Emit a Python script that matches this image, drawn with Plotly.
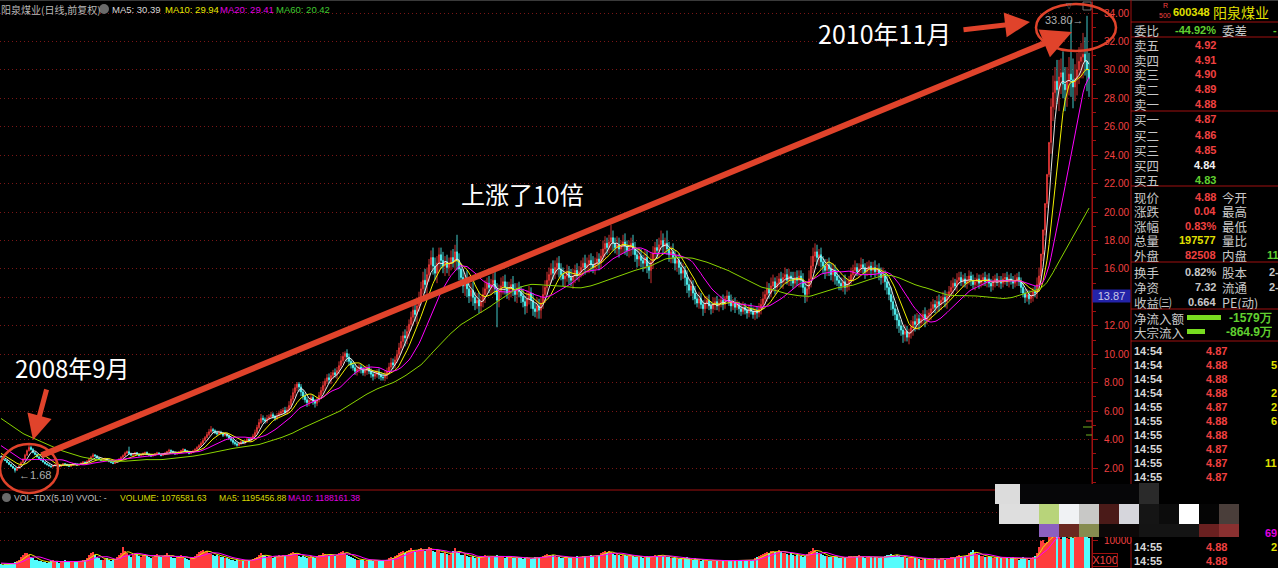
import plotly.graph_objects as go
import pandas as pd

W, H = 1278, 568
CJK = "Noto Sans CJK SC, Noto Sans, sans-serif"
LAT = "Liberation Sans, Arial, sans-serif"

# ---------------- data ----------------
# closes before the visible window (only used to warm up the moving averages)
history_close = [8.6, 8.5, 8.7, 8.4, 8.2, 8.3, 8.0, 7.8, 7.9, 7.6, 7.4, 7.5, 7.3, 7.1, 7.2, 7.0, 6.9, 6.8, 6.6, 6.5,
                 6.4, 6.2, 6.3, 6.0, 5.9, 6.1, 5.8, 5.6, 5.7, 5.5, 5.3, 5.4, 5.2, 5.0, 5.1, 4.9, 4.8, 4.9, 4.7, 4.6,
                 4.6, 4.5, 4.4, 4.5, 4.3, 4.2, 4.1, 4.0, 3.9, 3.8, 3.5, 3.4, 3.3, 3.2, 3.1, 3.0, 2.95, 2.9, 2.85, 2.8]
history_volume = [20, 18, 22, 25, 20, 18, 16, 15, 14, 13]

close = [
    2.78, 2.60, 2.52, 2.38, 2.25, 2.12, 2.00, 1.84, 1.98, 2.15, 2.38, 2.62, 2.90, 3.22, 3.45, 3.30, 3.08, 2.95, 2.78, 2.66,
    2.55, 2.42, 2.30, 2.22, 2.15, 2.08, 2.16, 2.24, 2.18, 2.10, 2.20, 2.30, 2.26, 2.18, 2.12, 2.22, 2.32, 2.28, 2.20, 2.25,
    2.34, 2.42, 2.38, 2.48, 2.62, 2.78, 2.92, 2.85, 2.70, 2.60, 2.52, 2.58, 2.66, 2.55, 2.45, 2.38, 2.32, 2.40, 2.50, 2.62,
    2.75, 2.88, 3.05, 3.15, 3.02, 2.90, 2.95, 3.08, 2.98, 2.86, 2.92, 3.02, 3.10, 2.98, 2.90, 2.84, 2.92, 3.00, 3.06, 2.96,
    2.88, 2.95, 3.05, 3.15, 3.25, 3.18, 3.08, 2.98, 3.05, 3.12, 3.22, 3.30, 3.20, 3.10, 3.02, 3.10, 3.20, 3.32, 3.45, 3.58,
    3.75, 3.95, 4.15, 4.35, 4.55, 4.70, 4.62, 4.48, 4.40, 4.52, 4.45, 4.30, 4.38, 4.25, 4.10, 3.95, 3.80, 3.70, 3.60, 3.72,
    3.85, 3.78, 3.90, 4.02, 3.95, 4.10, 4.25, 4.50, 4.85, 5.20, 5.50, 5.40, 5.30, 5.48, 5.60, 5.75, 5.62, 5.50, 5.68, 5.85,
    5.95, 6.05, 5.90, 6.10, 6.40, 6.85, 7.30, 7.65, 7.90, 7.70, 7.35, 7.05, 6.80, 6.60, 6.75, 6.95, 6.70, 6.55, 6.80, 7.10,
    7.45, 7.80, 8.10, 8.35, 8.20, 8.50, 8.70, 8.55, 8.85, 9.20, 9.55, 9.85, 10.05, 9.80, 9.50, 9.25, 9.05, 8.80, 8.95, 9.10,
    8.90, 8.70, 8.85, 9.05, 8.80, 8.60, 8.45, 8.60, 8.75, 8.55, 8.40, 8.35, 8.55, 8.80, 9.10, 9.40, 9.25, 9.60, 10.00, 10.45,
    10.90, 11.30, 11.15, 11.60, 12.10, 12.60, 13.10, 12.80, 13.40, 14.00, 14.60, 15.20, 14.90, 15.60, 16.30, 16.80, 16.20, 15.70, 16.40, 17.00,
    16.60, 16.20, 16.50, 16.10, 16.40, 16.80, 16.50, 17.20, 16.60, 16.00, 15.40, 14.80, 15.20, 14.60, 14.10, 14.50, 14.00, 13.60, 13.80, 13.40,
    13.70, 14.20, 14.60, 15.00, 14.70, 14.90, 15.20, 14.60, 13.80, 14.40, 14.80, 15.10, 14.70, 14.30, 14.60, 14.90, 14.50, 14.20, 14.60, 14.40,
    14.10, 13.70, 13.40, 13.90, 14.30, 13.80, 13.20, 13.00, 13.40, 13.10, 13.60, 14.20, 14.70, 15.20, 15.60, 16.00, 15.70, 16.10, 16.40, 16.00,
    15.60, 15.30, 15.50, 15.80, 15.40, 15.20, 15.50, 15.90, 15.60, 15.80, 16.10, 16.40, 16.10, 16.30, 16.60, 16.30, 16.10, 16.40, 16.70, 16.50,
    16.90, 17.40, 17.80, 17.50, 17.90, 18.20, 17.80, 17.50, 17.70, 17.40, 17.60, 17.90, 17.60, 17.30, 17.50, 17.80, 17.40, 17.00, 16.70, 16.90,
    16.60, 16.40, 16.80, 16.20, 15.90, 16.50, 17.10, 17.50, 17.30, 17.70, 18.00, 17.60, 17.80, 17.40, 17.00, 17.20, 16.80, 16.40, 16.60, 16.10,
    15.70, 15.90, 15.40, 14.90, 14.50, 14.80, 14.30, 13.90, 13.60, 13.90, 13.50, 13.20, 13.60, 13.80, 13.40, 13.20, 13.50, 13.70, 13.40, 13.60,
    13.80, 13.50, 13.90, 14.10, 13.70, 13.40, 13.60, 13.30, 13.50, 13.20, 13.00, 13.30, 13.10, 12.90, 13.20, 13.00, 12.80, 13.10, 12.90, 13.20,
    13.50, 13.90, 14.20, 14.60, 14.30, 14.80, 15.10, 14.70, 15.00, 15.30, 15.10, 15.40, 15.60, 15.20, 15.50, 15.30, 15.00, 15.40, 15.20, 15.50,
    15.20, 14.70, 14.20, 14.60, 15.30, 16.20, 16.90, 17.20, 16.80, 17.00, 16.50, 16.20, 15.90, 16.30, 16.00, 15.60, 15.90, 15.50, 15.20, 15.00,
    14.80, 15.10, 14.70, 14.90, 15.20, 15.60, 15.90, 16.10, 15.80, 16.00, 16.30, 16.10, 15.80, 16.00, 16.20, 15.90, 16.10, 15.80, 16.00, 15.70,
    15.40, 15.60, 15.10, 14.70, 14.20, 13.70, 13.20, 12.80, 12.40, 12.00, 11.70, 11.40, 11.60, 11.20, 11.50, 11.90, 12.30, 12.10, 12.50, 12.20,
    12.50, 12.80, 12.40, 12.70, 12.90, 13.20, 13.50, 13.30, 13.70, 13.50, 13.80, 14.00, 13.70, 14.10, 14.40, 14.70, 15.00, 14.80, 15.20, 15.40,
    15.10, 15.30, 15.00, 15.20, 15.50, 15.20, 14.90, 15.10, 15.30, 15.00, 15.20, 15.40, 15.10, 15.30, 15.00, 14.80, 15.10, 15.30, 15.10, 15.20,
    15.00, 15.30, 15.40, 15.10, 15.30, 15.20, 15.00, 15.20, 15.40, 15.10, 14.70, 14.30, 14.00, 14.20, 13.90, 14.10, 14.40, 14.30, 14.90, 15.50,
    17.05, 18.75, 20.60, 22.65, 24.90, 27.40, 28.40, 29.20, 28.60, 29.50, 29.80, 29.00, 28.60, 29.20, 29.70, 29.30, 28.80, 29.40, 30.00, 30.60,
    30.90, 31.10, 30.60, 30.00, 29.40,
]

# upper / lower shadows, in hundredths of a yuan
wick_up = [
    6, 5, 4, 5, 4, 3, 5, 4, 6, 5, 8, 6, 10, 8, 30, 12, 10, 6, 8, 5,
    5, 4, 3, 5, 4, 3, 6, 4, 5, 3, 6, 5, 4, 3, 5, 6, 4, 3, 5, 4,
    5, 6, 4, 8, 10, 8, 12, 6, 5, 4, 5, 6, 7, 4, 5, 3, 4, 6, 5, 8,
    8, 8, 10, 8, 35, 6, 8, 6, 5, 4, 6, 8, 5, 6, 5, 4, 6, 5, 8, 5,
    5, 6, 8, 6, 10, 5, 4, 6, 5, 8, 6, 10, 5, 4, 6, 5, 8, 6, 8, 10,
    12, 15, 10, 18, 20, 25, 12, 10, 15, 12, 10, 8, 12, 10, 8, 10, 8, 10, 12, 10,
    10, 12, 8, 10, 12, 10, 15, 20, 18, 25, 30, 20, 15, 25, 18, 20, 15, 12, 20, 18,
    20, 18, 25, 20, 30, 25, 30, 25, 15, 15, 20, 18, 25, 20, 18, 25, 20, 15, 20, 25,
    25, 30, 20, 25, 30, 25, 20, 30, 25, 30, 35, 30, 15, 30, 25, 20, 25, 30, 25, 20,
    20, 25, 30, 20, 25, 20, 25, 30, 20, 25, 20, 25, 30, 25, 30, 35, 30, 25, 30, 35,
    40, 30, 45, 40, 35, 40, 50, 60, 45, 40, 50, 60, 80, 50, 40, 50, 70, 60, 50, 50,
    50, 60, 40, 50, 40, 50, 60, 50, 120, 50, 40, 60, 50, 70, 40, 50, 60, 40, 50, 60,
    40, 50, 60, 40, 50, 40, 50, 60, 40, 50, 60, 40, 50, 40, 50, 40, 60, 50, 40, 50,
    40, 50, 40, 60, 50, 40, 50, 40, 60, 50, 40, 60, 50, 60, 50, 40, 60, 50, 40, 50,
    40, 50, 40, 50, 40, 60, 50, 40, 50, 40, 50, 40, 60, 50, 40, 50, 60, 40, 50, 40,
    50, 60, 50, 40, 50, 90, 50, 40, 60, 50, 40, 50, 60, 40, 50, 40, 60, 50, 40, 60,
    50, 40, 60, 50, 40, 60, 50, 40, 60, 50, 70, 50, 40, 90, 50, 40, 60, 50, 40, 50,
    40, 50, 30, 50, 40, 60, 40, 50, 30, 50, 40, 30, 50, 30, 40, 30, 50, 30, 40, 30,
    30, 40, 20, 40, 30, 50, 30, 40, 30, 20, 30, 40, 30, 20, 30, 40, 30, 20, 30, 40,
    40, 50, 30, 50, 40, 60, 50, 30, 50, 40, 50, 30, 50, 40, 50, 30, 50, 40, 50, 40,
    40, 50, 40, 50, 60, 70, 60, 60, 50, 40, 50, 40, 50, 40, 50, 40, 50, 40, 50, 40,
    40, 30, 50, 40, 30, 50, 40, 50, 30, 40, 50, 40, 30, 50, 40, 30, 40, 50, 30, 40,
    40, 50, 30, 50, 40, 50, 40, 30, 40, 50, 40, 30, 50, 40, 30, 50, 40, 50, 40, 30,
    40, 30, 50, 40, 30, 50, 40, 30, 40, 50, 30, 40, 50, 30, 40, 50, 40, 30, 50, 40,
    40, 30, 40, 30, 40, 30, 40, 30, 40, 30, 40, 30, 40, 30, 40, 30, 40, 30, 40, 30,
    30, 40, 30, 40, 30, 40, 30, 40, 30, 40, 30, 40, 30, 40, 30, 40, 30, 40, 50, 60,
    0, 0, 0, 0, 0, 60, 120, 100, 150, 120, 100, 150, 120, 100, 120, 380, 150, 100, 120, 100,
    100, 150, 120, 320, 120,
]
wick_dn = [
    4, 5, 3, 4, 5, 4, 6, 16, 4, 3, 4, 5, 6, 4, 6, 8, 5, 6, 4, 5,
    6, 4, 5, 3, 4, 5, 3, 4, 5, 4, 3, 4, 5, 6, 3, 4, 3, 5, 4, 3,
    3, 4, 5, 3, 4, 6, 5, 8, 6, 5, 4, 5, 3, 6, 5, 4, 5, 3, 4, 3,
    4, 5, 6, 8, 5, 6, 4, 5, 6, 5, 4, 5, 6, 4, 5, 6, 4, 5, 3, 6,
    6, 4, 5, 4, 6, 8, 5, 6, 4, 5, 4, 6, 8, 5, 6, 4, 5, 6, 4, 5,
    8, 10, 6, 8, 10, 12, 15, 10, 12, 8, 10, 12, 8, 10, 12, 10, 15, 12, 10, 8,
    10, 8, 12, 10, 8, 12, 10, 8, 15, 10, 12, 20, 18, 15, 12, 10, 15, 18, 12, 10,
    15, 20, 18, 15, 20, 25, 20, 30, 25, 35, 30, 25, 20, 30, 25, 20, 25, 30, 20, 18,
    20, 25, 30, 20, 25, 30, 25, 20, 30, 25, 20, 25, 30, 35, 30, 25, 20, 25, 30, 25,
    25, 20, 25, 30, 20, 25, 30, 20, 25, 30, 25, 20, 25, 30, 25, 20, 30, 25, 20, 25,
    40, 50, 60, 45, 50, 40, 60, 50, 70, 40, 50, 40, 60, 70, 50, 40, 60, 50, 70, 60,
    60, 50, 70, 40, 60, 50, 40, 60, 70, 80, 60, 50, 70, 60, 50, 40, 60, 50, 40, 50,
    50, 40, 60, 50, 40, 50, 60, 40, 190, 50, 40, 60, 50, 40, 50, 60, 40, 50, 60, 40,
    50, 40, 60, 50, 40, 60, 50, 40, 50, 60, 60, 40, 60, 50, 40, 60, 50, 40, 50, 60,
    40, 50, 60, 40, 50, 40, 60, 50, 40, 50, 40, 60, 50, 40, 60, 50, 40, 50, 40, 60,
    50, 40, 60, 50, 40, 60, 50, 40, 50, 60, 40, 50, 60, 40, 50, 60, 40, 50, 60, 50,
    50, 60, 40, 50, 60, 90, 50, 40, 60, 50, 40, 60, 50, 40, 50, 60, 40, 50, 60, 50,
    50, 40, 60, 60, 50, 40, 50, 40, 30, 40, 30, 50, 30, 40, 30, 40, 30, 40, 30, 40,
    30, 40, 30, 20, 30, 40, 30, 40, 20, 40, 30, 20, 30, 40, 30, 20, 30, 40, 40, 30,
    40, 30, 40, 50, 40, 30, 40, 50, 40, 30, 40, 50, 40, 30, 40, 50, 40, 30, 40, 50,
    50, 40, 60, 50, 40, 60, 50, 40, 50, 60, 40, 50, 60, 40, 50, 40, 50, 60, 40, 50,
    30, 40, 50, 30, 40, 30, 50, 40, 30, 40, 30, 40, 50, 30, 40, 50, 30, 40, 30, 50,
    50, 40, 60, 50, 40, 60, 50, 40, 60, 50, 40, 60, 50, 30, 50, 40, 60, 50, 40, 50,
    30, 40, 50, 30, 40, 50, 30, 40, 30, 50, 40, 30, 40, 50, 30, 40, 50, 30, 40, 30,
    30, 40, 30, 40, 30, 40, 30, 40, 30, 40, 30, 40, 30, 40, 30, 40, 30, 40, 30, 40,
    40, 30, 40, 30, 40, 30, 40, 30, 40, 30, 40, 30, 40, 30, 40, 30, 40, 30, 40, 50,
    60, 50, 40, 30, 20, 80, 100, 120, 100, 150, 120, 100, 150, 120, 100, 120, 150, 100, 120, 100,
    120, 150, 100, 150, 130,
]

# daily volume, in units of 10,000 shares
volume = [
    14, 12, 15, 13, 16, 14, 18, 22, 25, 30, 38, 45, 52, 55, 48, 40, 35, 30, 28, 25,
    24, 22, 20, 18, 22, 26, 28, 24, 20, 18, 22, 25, 28, 24, 20, 22, 26, 24, 20, 22,
    25, 28, 30, 35, 45, 52, 58, 48, 40, 35, 30, 28, 32, 36, 30, 26, 28, 32, 38, 45,
    55, 75, 60, 52, 45, 40, 48, 55, 50, 42, 38, 45, 50, 44, 38, 35, 40, 46, 50, 42,
    38, 42, 48, 52, 45, 40, 36, 34, 38, 42, 46, 40, 36, 32, 30, 34, 38, 44, 50, 56,
    60, 65, 58, 62, 55, 50, 46, 42, 48, 44, 40, 38, 36, 34, 32, 30, 28, 26, 30, 28,
    26, 24, 28, 30, 26, 28, 32, 36, 40, 45, 52, 48, 42, 38, 44, 40, 36, 38, 42, 46,
    44, 48, 42, 46, 50, 55, 58, 52, 48, 44, 40, 42, 38, 36, 40, 44, 38, 36, 40, 45,
    48, 52, 50, 46, 44, 50, 48, 42, 46, 52, 58, 62, 55, 48, 42, 38, 35, 32, 30, 28,
    30, 28, 26, 28, 30, 27, 25, 28, 30, 26, 24, 25, 28, 30, 34, 38, 36, 42, 48, 55,
    58, 62, 55, 60, 65, 70, 62, 58, 64, 68, 72, 65, 60, 68, 74, 70, 62, 58, 64, 60,
    55, 52, 58, 50, 48, 55, 60, 72, 58, 52, 48, 45, 50, 44, 40, 38, 42, 36, 34, 38,
    40, 44, 46, 42, 38, 40, 44, 42, 48, 44, 40, 38, 36, 40, 42, 38, 36, 34, 38, 36,
    34, 32, 36, 38, 34, 32, 36, 38, 40, 35, 38, 42, 46, 50, 48, 44, 46, 42, 40, 38,
    36, 34, 38, 40, 36, 34, 38, 40, 42, 38, 40, 44, 42, 40, 44, 46, 42, 40, 44, 48,
    52, 58, 62, 55, 60, 56, 50, 48, 52, 46, 44, 48, 45, 42, 44, 46, 42, 40, 38, 40,
    38, 36, 40, 42, 38, 40, 44, 48, 42, 46, 48, 44, 42, 40, 38, 36, 34, 36, 34, 32,
    34, 32, 36, 38, 34, 32, 30, 34, 32, 28, 26, 28, 30, 27, 25, 26, 28, 27, 25, 26,
    25, 27, 28, 26, 24, 26, 28, 25, 24, 26, 28, 25, 27, 30, 28, 26, 30, 34, 38, 42,
    45, 50, 55, 58, 52, 60, 62, 56, 58, 66, 60, 55, 52, 50, 48, 52, 46, 44, 48, 45,
    42, 40, 44, 50, 56, 62, 70, 65, 58, 54, 50, 46, 44, 42, 40, 38, 42, 40, 38, 36,
    35, 38, 36, 40, 42, 44, 40, 38, 42, 45, 40, 38, 36, 40, 42, 38, 36, 40, 38, 36,
    38, 40, 42, 45, 48, 50, 46, 44, 48, 42, 40, 38, 42, 36, 34, 38, 40, 36, 34, 32,
    30, 32, 34, 30, 28, 30, 32, 34, 30, 32, 34, 36, 30, 32, 35, 38, 40, 36, 42, 45,
    42, 40, 44, 48, 52, 58, 64, 55, 50, 46, 44, 42, 40, 38, 42, 40, 36, 38, 40, 36,
    34, 36, 38, 34, 32, 36, 38, 34, 32, 30, 34, 38, 36, 32, 30, 34, 38, 42, 55, 75,
    95, 100, 88, 92, 110, 135, 128, 120, 115, 118, 105, 112, 125, 108, 102, 112, 108, 122, 130, 115,
    125, 118, 128, 119, 107.66,
]

price_ticks = list(range(2, 35, 2))
ma_windows = [5, 10, 20, 60]
ma_colors = ["#e6e6e6", "#f2f200", "#ff00ff", "#8ad400"]
vol_ma_windows = [5, 10]
vol_ma_colors = ["#e8e800", "#ff00ff"]

header_main = [("MA5: 30.39", "#d8d8d8", 111), ("MA10: 29.94", "#e8e800", 164),
               ("MA20: 29.41", "#e000e0", 219), ("MA60: 20.42", "#40c830", 275)]
header_vol = [("VOL-TDX(5,10) VVOL: -", "#c0c0c0", 13), ("VOLUME: 1076581.63", "#d8d800", 119),
              ("MA5: 1195456.88", "#d8d800", 218), ("MA10: 1188161.38", "#e000e0", 287)]

RED = "#f04040"
UPC = "#ff3c3c"
DNC = "#54fcfc"
GRID = "#7a1616"
AXIS = "#a01010"
LABEL = "#c8c8c8"
GREEN = "#60d030"
YEL = "#e0e000"
ANN = "#e0432b"

# ---------------- derived ----------------
n = len(close)
xs = list(range(n))
opens = [history_close[-1]] + close[:-1]
highs = [round(max(o, c) + u / 100, 2) for o, c, u in zip(opens, close, wick_up)]
lows = [round(min(o, c) - d / 100, 2) for o, c, d in zip(opens, close, wick_dn)]
all_close = pd.Series(history_close + close)
hc = len(history_close)
mas = {w: all_close.rolling(w).mean().iloc[hc:].tolist() for w in ma_windows}
all_vol = pd.Series(history_volume + volume)
hv = len(history_volume)
vmas = {w: all_vol.rolling(w).mean().iloc[hv:].tolist() for w in vol_ma_windows}
vol_colors = [UPC if c >= o else DNC for o, c in zip(opens, close)]

# price axis calibration: 34.00 at pixel row 13, 2.00 at pixel row 468
PX_PER_UNIT = (468 - 13) / 32.0
p_top = 34 + (13 - 2) / PX_PER_UNIT
p_bot = 2 - (488 - 468) / PX_PER_UNIT
X_RIGHT = 1092

fig = go.Figure()
fig.add_trace(go.Candlestick(
    x=xs, open=opens, high=highs, low=lows, close=close,
    increasing=dict(line=dict(color=UPC, width=0.8), fillcolor="#000000"),
    decreasing=dict(line=dict(color=DNC, width=0.8), fillcolor=DNC),
    whiskerwidth=0, hoverinfo="skip", xaxis="x", yaxis="y"))
for w, col in zip(ma_windows, ma_colors):
    fig.add_trace(go.Scatter(x=xs, y=mas[w], mode="lines", line=dict(color=col, width=1),
                             hoverinfo="skip", xaxis="x", yaxis="y"))
fig.add_trace(go.Bar(x=xs, y=volume, marker=dict(color=vol_colors, line=dict(width=0)), width=0.5,
                     hoverinfo="skip", xaxis="x2", yaxis="y2"))
for w, col in zip(vol_ma_windows, vol_ma_colors):
    fig.add_trace(go.Scatter(x=xs, y=vmas[w], mode="lines", line=dict(color=col, width=1),
                             hoverinfo="skip", xaxis="x2", yaxis="y2"))


def px(x):
    return x / W


def py(y):
    return 1 - y / H


axis_common = dict(side="right", showline=True, linecolor=AXIS, linewidth=1, ticks="outside",
                   ticklen=5, tickcolor=AXIS, tickfont=dict(color=RED, size=10, family=LAT),
                   showgrid=True, gridcolor=GRID, griddash="1px,3px", gridwidth=1, zeroline=False,
                   ticklabelstandoff=4)

# the 14.00 label sits under the current-price box in the reference
price_ticktext = ["" if t == 14 else "%.2f" % t for t in price_ticks]

fig.update_layout(
    width=W, height=H, margin=dict(l=0, r=0, t=0, b=0),
    paper_bgcolor="black", plot_bgcolor="black", showlegend=False, bargap=0,
    xaxis=dict(domain=[0, X_RIGHT / W], range=[-0.5, n + 0.5], visible=False,
               rangeslider=dict(visible=False), anchor="y"),
    yaxis=dict(domain=[py(488), py(2)], range=[p_bot, p_top], anchor="x",
               tickvals=price_ticks, ticktext=price_ticktext,
               minor=dict(dtick=1, tick0=0, ticklen=3, tickcolor=AXIS, showgrid=False),
               **axis_common),
    xaxis2=dict(domain=[0, X_RIGHT / W], range=[-0.5, n + 0.5], visible=False, anchor="y2",
                matches="x"),
    yaxis2=dict(domain=[0, py(492)], range=[0, (568 - 492) / 0.28], anchor="x2",
                tickvals=[100, 200], ticktext=["10000", ""], **axis_common),
)

shapes = []
ann = []


def line(x0, y0, x1, y1, color, width=1):
    shapes.append(dict(type="line", xref="paper", yref="paper", x0=px(x0), y0=py(y0), x1=px(x1),
                       y1=py(y1), line=dict(color=color, width=width), layer="above"))


def rect(x0, y0, x1, y1, color, lc=None):
    shapes.append(dict(type="rect", xref="paper", yref="paper", x0=px(x0), y0=py(y0), x1=px(x1),
                       y1=py(y1), fillcolor=color, line=dict(width=1 if lc else 0, color=lc or color),
                       layer="above"))


def txt(x, y, s, color, size=12, anchor="left", family=CJK, **kw):
    ann.append(dict(x=px(x), y=py(y), xref="paper", yref="paper", text=s, showarrow=False,
                    xanchor=anchor, yanchor="middle", font=dict(color=color, size=size, family=family),
                    borderpad=0, **kw))


def label(x, y, s):
    # quote-board caption: fixed 14 px row box so neighbouring rows do not collide
    txt(x, y, s, LABEL, 12.5, height=14, valign="middle")


def arrow(x0, y0, x1, y1, width, head=2, size=1.0):
    ann.append(dict(x=px(x1), y=py(y1), xref="paper", yref="paper", ax=x0 - x1, ay=y0 - y1,
                    axref="pixel", ayref="pixel", text="", showarrow=True, arrowhead=head,
                    arrowsize=size, arrowwidth=width, arrowcolor=ANN))


# frame lines
line(0, 0.5, 1278, 0.5, "#3a3a3a")
line(X_RIGHT, 0, X_RIGHT, 568, AXIS)
line(1131, 0, 1131, 568, AXIS)
line(0, 490, 1131, 490, AXIS)
for yy in [22, 37, 111, 186, 262, 309, 341]:
    line(1131, yy, 1278, yy, AXIS)
# small indicator dashes beside the price axis
line(1086, 421, 1092, 421, "#d03030")
line(1083, 427, 1092, 427, "#70b020")
line(1086, 435, 1092, 435, "#70b020")

# header rows
txt(0, 9, "阳泉煤业(日线,前复权)", "#b8b8b8", 10)
shapes.append(dict(type="circle", xref="paper", yref="paper", x0=px(99), y0=py(14), x1=px(109),
                   y1=py(4), fillcolor="#6a6a6a", line=dict(width=0), layer="above"))
for s, c, x in header_main:
    txt(x, 9, s, c, 9.5, family=LAT)
shapes.append(dict(type="circle", xref="paper", yref="paper", x0=px(2), y0=py(502), x1=px(11),
                   y1=py(493), fillcolor="#6a6a6a", line=dict(width=0), layer="above"))
for s, c, x in header_vol:
    txt(x, 498, s, c, 8.6, family=LAT)
txt(1069, 6, "▽", "#707070", 8, anchor="center", family="DejaVu Sans")
rect(1083, 2, 1091, 10, "rgba(0,0,0,0)", lc="#707070")

# high / low marks on the candles
ann.append(dict(x=7, y=lows[7], xref="x", yref="y", text="←%.2f" % lows[7], showarrow=False,
                xanchor="left", yanchor="middle", xshift=2, yshift=-2,
                font=dict(color="#b0b0b0", size=11, family=LAT)))
i_hi = max(range(n), key=lambda i: highs[i])
ann.append(dict(x=i_hi, y=highs[i_hi], xref="x", yref="y", text="%.2f→" % highs[i_hi], showarrow=False,
                xanchor="right", yanchor="middle", xshift=-1, yshift=-4,
                font=dict(color="#b0b0b0", size=11, family=LAT)))

# current price box and volume unit box
txt(1111, 296, "13.87", "#c8c8e8", 11, anchor="center", family=LAT, bgcolor="#2323a8", width=37, height=12)
txt(1105, 560, "X100", RED, 11, anchor="center", family=LAT, bordercolor=AXIS, borderwidth=1, width=24, height=12)

# red annotation marks
shapes.append(dict(type="circle", xref="paper", yref="paper", x0=px(0), y0=py(493), x1=px(58),
                   y1=py(444), line=dict(color=ANN, width=2.5), layer="above"))
shapes.append(dict(type="circle", xref="paper", yref="paper", x0=px(1036), y0=py(51), x1=px(1116),
                   y1=py(4), line=dict(color=ANN, width=2.5), layer="above"))
arrow(40, 456, 1072, 32, 6)
arrow(47, 388, 33, 440, 5)
arrow(962, 30, 1030, 22, 5)
txt(72, 367, "2008年9月", "#ffffff", 24, anchor="center")
txt(522, 193, "上涨了10倍", "#ffffff", 24, anchor="center")
txt(884, 33, "2010年11月", "#ffffff", 25, anchor="center")

# right panel: quote board
txt(1165, 6, "R", RED, 7, anchor="center", family=LAT)
txt(1165, 16, "500", RED, 7, anchor="center", family=LAT)
txt(1172, 12, "<b>600348</b>", YEL, 11, family=LAT)
txt(1212, 12, "阳泉煤业", YEL, 14)
label(1133, 30, "委比")
txt(1217, 30, "<b>-44.92%</b>", GREEN, 11, anchor="right", family=LAT)
label(1221, 30, "委差")
txt(1272, 30, "<b>-</b>", GREEN, 11, family=LAT)

book = [("卖五", "4.92", RED, 45), ("卖四", "4.91", RED, 60), ("卖三", "4.90", RED, 74),
        ("卖二", "4.89", RED, 89), ("卖一", "4.88", RED, 104), ("买一", "4.87", RED, 119),
        ("买二", "4.86", RED, 135), ("买三", "4.85", RED, 150), ("买四", "4.84", "#f0f0f0", 165),
        ("买五", "4.83", GREEN, 180)]
for lab, val, col, yy in book:
    label(1133, yy, lab)
    txt(1217, yy, "<b>%s</b>" % val, col, 11, anchor="right", family=LAT)

quote = [("现价", "4.88", RED, "今开", 197), ("涨跌", "0.04", RED, "最高", 211),
         ("涨幅", "0.83%", RED, "最低", 226), ("总量", "197577", YEL, "量比", 240),
         ("外盘", "82508", RED, "内盘", 255), ("换手", "0.82%", LABEL, "股本", 272),
         ("净资", "7.32", LABEL, "流通", 287), ("收益㈢", "0.664", LABEL, "PE(动)", 302)]
for lab, val, col, lab2, yy in quote:
    label(1133, yy, lab)
    txt(1217, yy, "<b>%s</b>" % val, col, 11, anchor="right", family=LAT)
    label(1221, yy, lab2)
txt(1266, 255, "<b>11</b>", GREEN, 11, family=LAT)
txt(1268, 272, "<b>2-</b>", LABEL, 11, family=LAT)
txt(1268, 287, "<b>2-</b>", LABEL, 11, family=LAT)

flows = [("净流入额", 1221, "-1579万", 318), ("大宗流入", 1205, "-864.9万", 332)]
for lab, bx, val, yy in flows:
    label(1133, yy, lab)
    rect(1187, yy - 3, bx, yy + 2, "#78dc20")
    txt(1273, yy, "<b>%s</b>" % val, GREEN, 12, anchor="right", family=LAT, height=14)

ticks_time = ["14:54", "14:54", "14:54", "14:54", "14:55", "14:55", "14:55", "14:55", "14:55", "14:55"]
ticks_price = ["4.87", "4.88", "4.88", "4.88", "4.87", "4.88", "4.88", "4.87", "4.87", "4.87"]
for k, (t, p) in enumerate(zip(ticks_time, ticks_price)):
    yy = 351 + 14 * k
    txt(1133, yy, "<b>%s</b>" % t, "#d8d8d8", 11, family=LAT)
    txt(1228, yy, "<b>%s</b>" % p, RED, 11, anchor="right", family=LAT)
for yy in [547, 561]:
    txt(1133, yy, "<b>14:55</b>", "#d8d8d8", 11, family=LAT)
    txt(1228, yy, "<b>4.88</b>", RED, 11, anchor="right", family=LAT)
for yy, s, c in [(365, "5", YEL), (393, "2", YEL), (407, "2", YEL), (421, "6", YEL),
                 (463, "11", YEL), (533, "69", "#e000e0"), (547, "2", YEL)]:
    txt(1278, yy, "<b>%s</b>" % s, c, 11, anchor="right", family=LAT)

# pixelated patch over the lower right corner
mosaic = [
    (995, 484, 1020, 504, "#dcdcdc"), (1020, 484, 1139, 504, "#060608"),
    (1139, 483, 1159, 504, "#2a2a2a"),
    (999, 504, 1039, 524, "#dedede"), (1039, 504, 1059, 524, "#b8d47a"),
    (1059, 504, 1079, 524, "#f0f2f4"), (1079, 504, 1099, 524, "#c8c8c6"),
    (1099, 504, 1119, 524, "#4a1a18"), (1119, 504, 1139, 524, "#d6d6dc"),
    (1139, 504, 1159, 524, "#151515"), (1159, 504, 1179, 524, "#0c0c0c"),
    (1179, 504, 1199, 524, "#ffffff"), (1199, 504, 1219, 524, "#050505"),
    (1219, 504, 1239, 524, "#4a3e3a"),
    (1039, 524, 1059, 537, "#8c60c0"), (1059, 524, 1079, 537, "#6a2820"),
    (1079, 524, 1099, 537, "#868c50"), (1099, 524, 1139, 537, "#0c0808"),
    (1139, 524, 1199, 537, "#141414"), (1199, 524, 1219, 537, "#6a2020"),
    (1219, 524, 1239, 537, "#8a3030"),
]
for x0, y0, x1, y1, c in mosaic:
    rect(x0, y0, x1, y1, c)

fig.update_layout(shapes=shapes, annotations=ann)
fig.write_html("out.html", config={"displayModeBar": False},
               post_script="document.body.style.margin='0px';document.body.style.padding='0px';"
                           "document.body.style.background='black';document.body.style.overflow='hidden';")
